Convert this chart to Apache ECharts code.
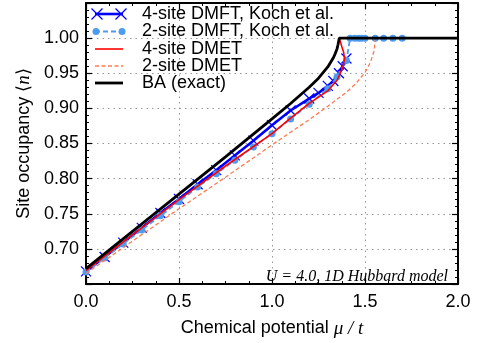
<!DOCTYPE html>
<html>
<head>
<meta charset="utf-8">
<script src="https://cdn.jsdelivr.net/npm/echarts@6/dist/echarts.min.js"></script>
<style>
html,body{margin:0;padding:0;background:#fff;}
#c{width:478px;height:343px;}
</style>
</head>
<body>
<div id="c"></div>
<script>
// ---- data (mu/t, <n>) ----
const mu4DMFT = [0.0,0.1,0.2,0.3,0.4,0.5,0.6,0.7,0.8,0.9,1.0,1.1,1.2,1.25,1.3,1.33,1.36,1.38,1.40];
const n4DMFT  = [0.668,0.6885,0.709,0.730,0.751,0.771,0.792,0.812,0.833,0.854,0.876,0.897,0.914,0.922,0.932,0.939,0.950,0.960,0.971];

const mu2DMFT = [0.0,0.1,0.2,0.3,0.4,0.5,0.6,0.7,0.8,0.9,1.0,1.1,1.2,1.3,1.35,1.40,1.42,1.445,1.465,1.48,1.50,1.555,1.60,1.65,1.70];
const n2DMFT  = [0.667,0.687,0.707,0.727,0.747,0.767,0.788,0.807,0.826,0.845,0.864,0.885,0.906,0.928,0.945,0.968,1.0,1.0,1.0,1.0,1.0,1.0,1.0,1.0,1.0];

const mu4DMET = [0.0,0.25,0.5,0.75,1.0,1.1,1.2,1.25,1.3,1.35,1.38,1.39,1.385,1.375,1.362];
const n4DMET  = [0.669,0.720,0.770,0.818,0.864,0.886,0.907,0.916,0.925,0.940,0.958,0.970,0.980,0.988,1.0];

const mu2DMET = [0.0,0.25,0.5,0.75,1.0,1.1,1.2,1.3,1.4,1.45,1.5,1.53,1.55,1.555];
const n2DMET  = [0.665,0.711,0.757,0.802,0.848,0.866,0.884,0.903,0.923,0.935,0.951,0.966,0.983,1.0];

const muBA = [0.0,0.25,0.5,0.75,1.0,1.1,1.2,1.25,1.3,1.33,1.34,1.35,1.355,1.362,2.0];
const nBA  = [0.672,0.725,0.778,0.831,0.885,0.907,0.930,0.943,0.959,0.972,0.978,0.985,0.991,1.0,1.0];

const xTicks = [0.0,0.5,1.0,1.5,2.0];
const yTickLabels = [0.70,0.75,0.80,0.85,0.90,0.95,1.00];

const names = ['4-site DMFT, Koch et al.','2-site DMFT, Koch et al.','4-site DMET','2-site DMET','BA (exact)'];
const annotation = 'U = 4.0, 1D Hubbard model';

// ---- styling ----
const SANS = 'Liberation Sans, Arial, Helvetica, sans-serif';
const SERIF = 'Liberation Serif, Times New Roman, serif';
const C_BLUE = '#0000ff', C_LB = '#4d9bf0', C_RED = '#ff0000', C_OR = '#ff7a50', C_BLK = '#000000';
const CROSS = 'path://M0,0L10,10M10,0L0,10';
const FS = 18;

function zip(a,b){ return a.map((v,i)=>[v,b[i]]); }

const chart = echarts.init(document.getElementById('c'), null, {renderer:'canvas'});

const option = {
  animation:false,
  backgroundColor:'#fff',
  grid:{left:86, right:20, top:3, bottom:52, containLabel:false},
  xAxis:[
    {
      type:'value', min:0, max:2, interval:0.5, position:'bottom',
      axisLine:{show:true, onZero:false, lineStyle:{color:'#000', width:2}},
      axisTick:{show:true, inside:true, length:6, lineStyle:{color:'#000', width:1.2}},
      minorTick:{show:true, splitNumber:4, length:3, lineStyle:{color:'#000', width:1}},
      axisLabel:{show:true, color:'#000', fontSize:FS, fontFamily:SANS, margin:9,
        formatter:v=> xTicks.some(t=>Math.abs(t-v)<1e-9) ? v.toFixed(1) : ''},
      splitLine:{show:true, lineStyle:{color:'#999', type:[1.5,4], width:1}},
      name:'Chemical potential {m|μ / t}', nameLocation:'middle', nameGap:35,
      nameTextStyle:{color:'#000', fontSize:FS, fontFamily:SANS,
        rich:{m:{fontFamily:SERIF, fontStyle:'italic', fontSize:19, color:'#000'}}}
    },
    {
      type:'value', min:0, max:2, interval:0.5, position:'top',
      axisLine:{show:true, onZero:false, lineStyle:{color:'#000', width:2}},
      axisTick:{show:true, inside:true, length:6, lineStyle:{color:'#000', width:1.2}},
      minorTick:{show:true, splitNumber:4, length:3, lineStyle:{color:'#000', width:1}},
      axisLabel:{show:false}, splitLine:{show:false}
    }
  ],
  yAxis:[
    {
      type:'value', min:0.65, max:1.05, interval:0.05, position:'left',
      axisLine:{show:true, onZero:false, lineStyle:{color:'#000', width:2}},
      axisTick:{show:true, inside:true, length:6, lineStyle:{color:'#000', width:1.2}},
      minorTick:{show:true, splitNumber:5, length:3, lineStyle:{color:'#000', width:1}},
      axisLabel:{show:true, color:'#000', fontSize:FS, fontFamily:SANS, margin:7,
        formatter:v=> yTickLabels.some(t=>Math.abs(t-v)<1e-6) ? v.toFixed(2) : ''},
      splitLine:{show:true, lineStyle:{color:'#999', type:[1.5,4], width:1}},
      name:'Site occupancy ⟨{m|n}⟩', nameLocation:'middle', nameGap:52, nameRotate:90,
      nameTextStyle:{color:'#000', fontSize:FS, fontFamily:SANS,
        rich:{m:{fontFamily:SERIF, fontStyle:'italic', fontSize:19, color:'#000'}}}
    },
    {
      type:'value', min:0.65, max:1.05, interval:0.05, position:'right',
      axisLine:{show:true, onZero:false, lineStyle:{color:'#000', width:2}},
      axisTick:{show:true, inside:true, length:6, lineStyle:{color:'#000', width:1.2}},
      minorTick:{show:true, splitNumber:5, length:3, lineStyle:{color:'#000', width:1}},
      axisLabel:{show:false}, splitLine:{show:false}
    }
  ],
  series:[
    {
      name:names[0], type:'line', xAxisIndex:0, yAxisIndex:0, data:zip(mu4DMFT,n4DMFT),
      lineStyle:{color:C_BLUE, width:2.6}, symbol:CROSS, symbolSize:10, showSymbol:true,
      itemStyle:{color:C_BLUE, borderColor:C_BLUE, borderWidth:1.2}, z:2
    },
    {
      name:names[1], type:'line', data:zip(mu2DMFT,n2DMFT),
      lineStyle:{color:C_LB, width:1.8, type:[5,3]}, symbol:'circle', symbolSize:7,
      itemStyle:{color:C_LB, borderWidth:0}, z:3
    },
    {
      name:names[2], type:'line', data:zip(mu4DMET,n4DMET),
      lineStyle:{color:C_RED, width:1.6}, symbol:'none', z:4
    },
    {
      name:names[3], type:'line', data:zip(mu2DMET,n2DMET),
      lineStyle:{color:C_OR, width:1.3, type:[4,2.5]}, symbol:'none', z:5
    },
    {
      name:names[4], type:'line', data:zip(muBA,nBA),
      lineStyle:{color:C_BLK, width:2.8}, symbol:'none', z:6
    }
  ],
  graphic:[]
};

// legend drawn with graphic elements (matplotlib-like: two markers per line)
const legRows = [14, 31.5, 49, 66, 83];
const lx0 = 95, lx1 = 123, tx = 142;
const g = [];
g.push({type:'line', shape:{x1:lx0,y1:legRows[0],x2:lx1,y2:legRows[0]}, style:{stroke:C_BLUE, lineWidth:2.6}, z:100});
[97,121].forEach(cx=>{
  g.push({type:'polyline', shape:{points:[[cx-5.5,legRows[0]-5.5],[cx+5.5,legRows[0]+5.5]]}, style:{stroke:C_BLUE, lineWidth:1.3}, z:101});
  g.push({type:'polyline', shape:{points:[[cx+5.5,legRows[0]-5.5],[cx-5.5,legRows[0]+5.5]]}, style:{stroke:C_BLUE, lineWidth:1.3}, z:101});
});
g.push({type:'line', shape:{x1:lx0,y1:legRows[1],x2:lx1,y2:legRows[1]}, style:{stroke:C_LB, lineWidth:1.8, lineDash:[5,3]}, z:100});
[96,122].forEach(cx=>{ g.push({type:'circle', shape:{cx:cx, cy:legRows[1], r:3.5}, style:{fill:C_LB}, z:101}); });
g.push({type:'line', shape:{x1:lx0,y1:legRows[2],x2:lx1,y2:legRows[2]}, style:{stroke:C_RED, lineWidth:1.6}, z:100});
g.push({type:'line', shape:{x1:lx0,y1:legRows[3],x2:lx1,y2:legRows[3]}, style:{stroke:C_OR, lineWidth:1.3, lineDash:[4,2.5]}, z:100});
g.push({type:'line', shape:{x1:lx0,y1:legRows[4],x2:lx1,y2:legRows[4]}, style:{stroke:C_BLK, lineWidth:2.8}, z:100});
names.forEach((nm,i)=>{
  g.push({type:'text', x:tx, y:legRows[i], style:{text:nm, fill:'#000', font:FS+'px '+SANS, textVerticalAlign:'middle', textAlign:'left'}, z:100});
});
g.push({type:'text', x:448, y:277, style:{text:annotation, fill:'#000', font:'italic 16px '+SERIF, textAlign:'right', textVerticalAlign:'middle'}, z:100});
option.graphic = g;

chart.setOption(option);
</script>
</body>
</html>
